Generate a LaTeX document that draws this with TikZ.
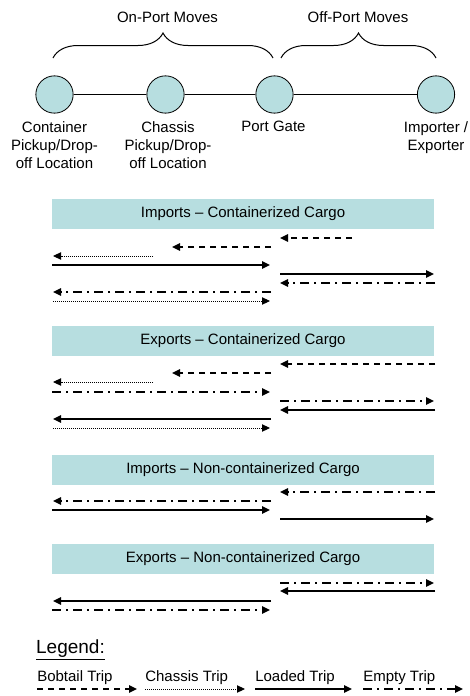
\documentclass[tikz,border=0pt]{standalone}
\usepackage{fontspec}
\setmainfont{Liberation Sans}
\usetikzlibrary{arrows.meta,decorations.pathreplacing}
\definecolor{paleteal}{HTML}{B7DEE0}

\begin{document}
\begin{tikzpicture}[x=0.75pt,y=-0.75pt,
    font=\fontsize{11.25}{13.5}\selectfont,
    place_node/.style={circle,draw,fill=paleteal,minimum size=28pt,inner sep=0pt,line width=0.6pt},
    place_label/.style={align=center,anchor=north,inner sep=0pt},
    head_band/.style={fill=paleteal,minimum width=286.5pt,minimum height=22.5pt,inner sep=0pt},
    trip/.style={line width=1.1pt,-{Triangle[length=6pt,width=5.5pt]}},
    bobtail_trip/.style={trip,dash pattern=on 4.5pt off 3.75pt},
    chassis_trip/.style={trip,line width=0.7pt,dash pattern=on 0.7pt off 0.8pt},
    loaded_trip/.style={trip},
    empty_trip/.style={trip,dash pattern=on 6.75pt off 3.75pt on 1.5pt off 3.75pt},
    move_brace/.style={decorate,decoration={brace,amplitude=18.75pt},line width=0.75pt}]

    \useasboundingbox (0,0) rectangle (470,696);

    \node (on) at (167.5, 17) {On-Port Moves};
    \node (off) at (358, 17) {Off-Port Moves};
    \draw[move_brace] (53, 58) -- (273, 58);
    \draw[move_brace] (281, 58) -- (436, 58);

    \node[place_node] (1) at (54.5, 94.5) {};
    \node[place_node] (2) at (165.5, 94.5) {};
    \node[place_node] (3) at (274.5, 94.5) {};
    \node[place_node] (4) at (436, 94.5) {};
    \draw[line width=0.75pt] (1) -- (2) -- (3) -- (4);

    \node[place_label] (l1) at (54.5, 121) {Container\\Pickup/Drop-\\off Location};
    \node[place_label] (l2) at (168, 121) {Chassis\\Pickup/Drop-\\off Location};
    \node[place_label] (l3) at (273.5, 121) {Port Gate};
    \node[place_label] (l4) at (436, 121) {Importer /\\Exporter};

    % imports, containerized
    \node[head_band] (b1) at (243, 213.5) {Imports -- Containerized Cargo};
    \draw[bobtail_trip] (352, 238) -- (280, 238);
    \draw[bobtail_trip] (271, 247) -- (172, 247);
    \draw[chassis_trip] (153, 256) -- (53, 256);
    \draw[loaded_trip] (52, 265) -- (270, 265);
    \draw[loaded_trip] (280, 274) -- (434, 274);
    \draw[empty_trip] (435, 283) -- (280, 283);
    \draw[empty_trip] (271, 292) -- (53, 292);
    \draw[chassis_trip] (53, 301) -- (270, 301);

    % exports, containerized
    \node[head_band] (b2) at (243, 341) {Exports -- Containerized Cargo};
    \draw[bobtail_trip] (435, 364) -- (280, 364);
    \draw[bobtail_trip] (271, 373) -- (172, 373);
    \draw[chassis_trip] (153, 382) -- (53, 382);
    \draw[empty_trip] (52, 392) -- (270, 392);
    \draw[empty_trip] (280, 401) -- (434, 401);
    \draw[loaded_trip] (435, 410) -- (280, 410);
    \draw[loaded_trip] (271, 419) -- (53, 419);
    \draw[chassis_trip] (53, 428) -- (270, 428);

    % imports, non-containerized
    \node[head_band] (b3) at (243, 470) {Imports -- Non-containerized Cargo};
    \draw[empty_trip] (435, 492) -- (280, 492);
    \draw[empty_trip] (271, 501) -- (53, 501);
    \draw[loaded_trip] (52, 510) -- (270, 510);
    \draw[loaded_trip] (280, 519) -- (434, 519);

    % exports, non-containerized
    \node[head_band] (b4) at (243, 558.5) {Exports -- Non-containerized Cargo};
    \draw[empty_trip] (280, 583) -- (434, 583);
    \draw[loaded_trip] (435, 591) -- (280, 591);
    \draw[loaded_trip] (271, 601) -- (53, 601);
    \draw[empty_trip] (52, 610) -- (270, 610);

    % legend
    \node[font=\fontsize{14.25}{16}\selectfont] (leg) at (70.5, 650) {\underline{Legend:}};
    \node[anchor=west,inner sep=0pt] (t1) at (37, 678) {Bobtail Trip};
    \node[anchor=west,inner sep=0pt] (t2) at (145, 678) {Chassis Trip};
    \node[anchor=west,inner sep=0pt] (t3) at (255, 678) {Loaded Trip};
    \node[anchor=west,inner sep=0pt] (t4) at (363, 678) {Empty Trip};
    \draw[bobtail_trip] (37, 689) -- (137, 689);
    \draw[chassis_trip] (145, 689) -- (245, 689);
    \draw[loaded_trip] (255, 689) -- (352, 689);
    \draw[empty_trip] (363, 689) -- (463, 689);
\end{tikzpicture}
\end{document}
